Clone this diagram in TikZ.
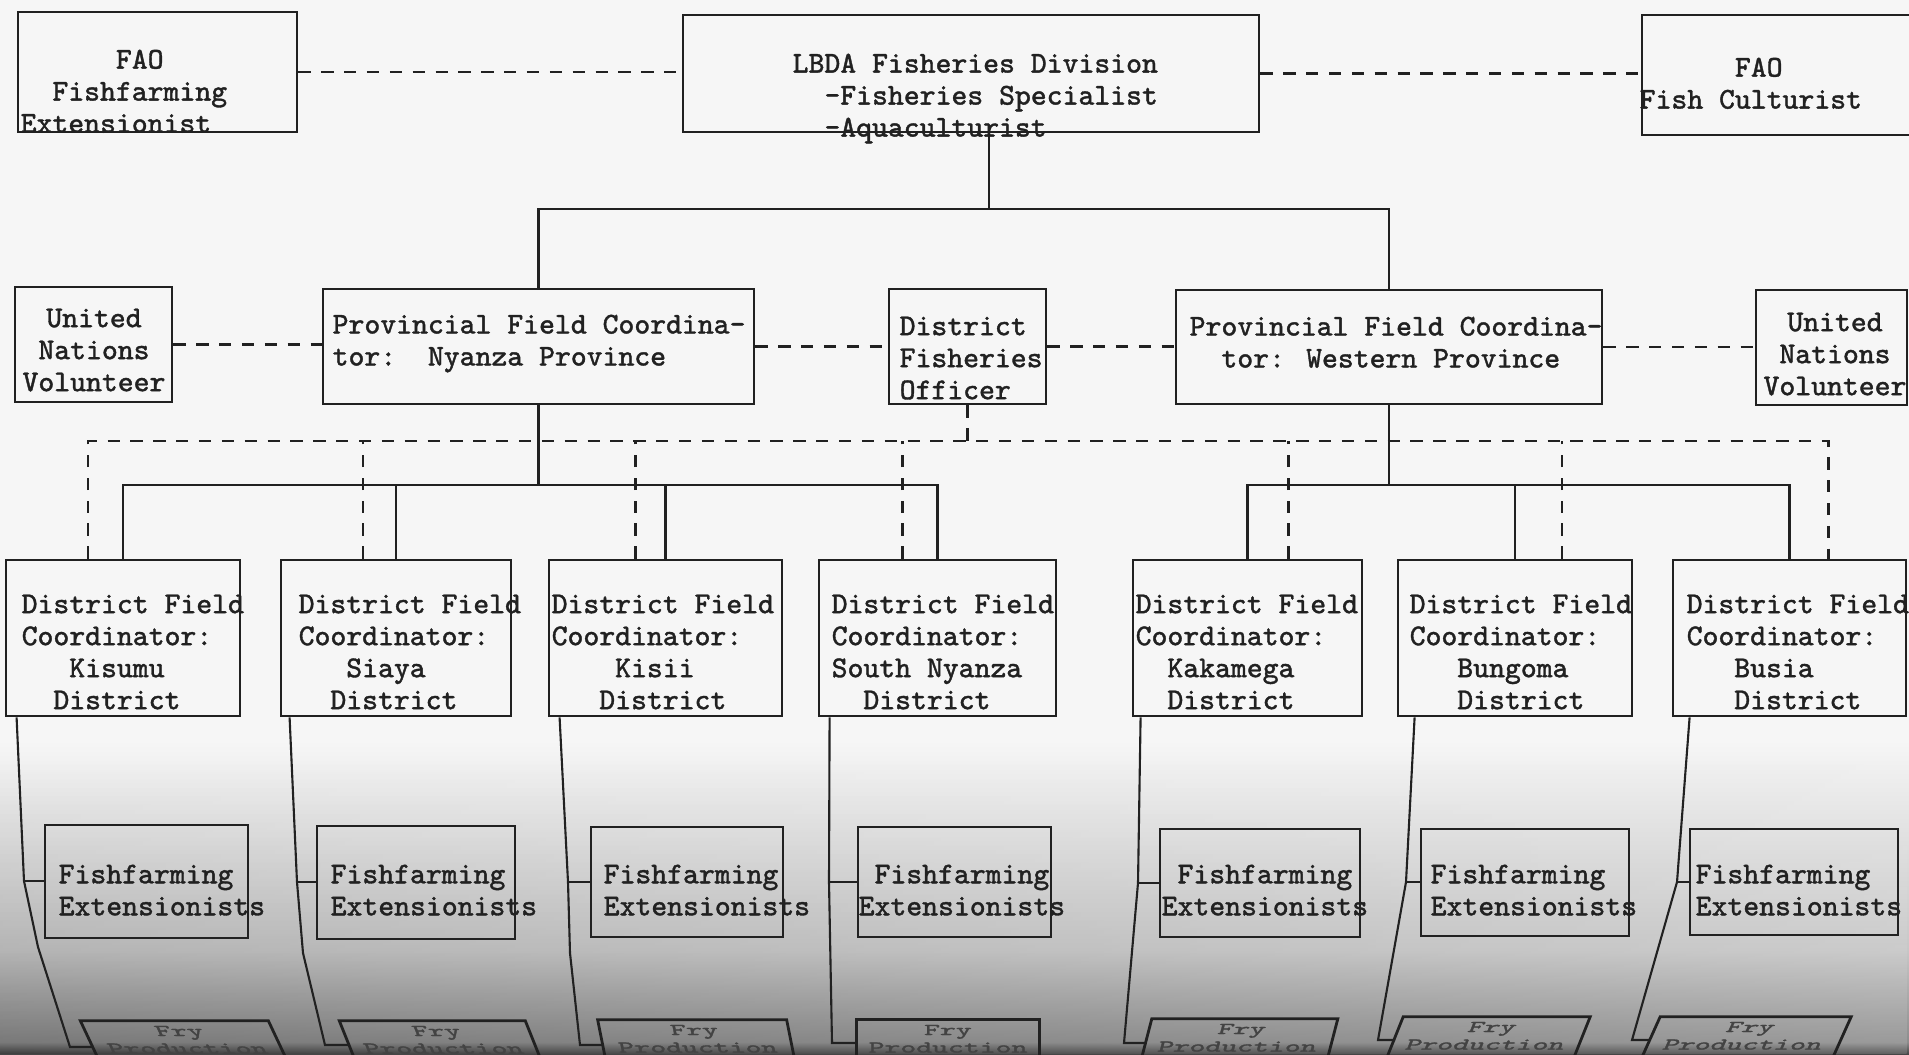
\documentclass[tikz,border=0pt]{standalone}
\usepackage{fontspec}
\newfontfamily\twfam{Latin Modern Mono}[FakeBold=1.2]
\usetikzlibrary{calc,fadings}
\definecolor{paper}{gray}{0.965}
\definecolor{ink}{gray}{0.13}
\definecolor{shA}{gray}{0.78}
\definecolor{shB}{gray}{0.55}
\newcommand{\twfont}{\fontsize{8.6}{9.1}\selectfont\twfam}
\newcommand\bx[6][]{\pgfmathsetmacro\bw{(#5-#3)*0.01}\pgfmathsetmacro\bh{(#6-#4)*0.01}%
  \node[box,minimum width=\bw cm,minimum height=\bh cm,#1] (#2) at ({(#3+#5)/2},{(#4+#6)/2}) {};}
\newcommand\fry[5]{%
  \begin{scope}[shift={(#2,#3)}, xslant=#5, yscale=0.55]
    \pgfmathsetmacro\fw{#4*0.01}
    \node[box, transform shape, anchor=north, minimum width=\fw cm, minimum height=2.2cm] (#1) at (0,0) {};
    \node[ctxt, transform shape, anchor=center, text=ink!85] (#1t) at (0,36) {Fry\\Production};
  \end{scope}}
\begin{document}
\begin{tikzpicture}[x=0.01cm,y=-0.01cm,
  box/.style={draw=ink, line width=0.8pt, inner sep=0pt, rectangle},
  txt/.style={inner sep=0pt, text=ink, font=\twfont, align=left, anchor=north west},
  ctxt/.style={inner sep=0pt, text=ink, font=\twfont, align=center, anchor=north},
  conn/.style={draw=ink, line width=0.6pt},
  dconn/.style={draw=ink, line width=0.6pt, dash pattern=on 3.5pt off 3pt}]
\useasboundingbox (0,0) rectangle (1909,1054);
\clip (0,0) rectangle (1909,1054);
\fill[paper] (0,0) rectangle (1909,1054);
\shade[top color=paper, bottom color=shA] (0,740) rectangle (1909,950);
\shade[top color=shA, bottom color=shB] (0,950) rectangle (1909,1042);
\shade[top color=shB, bottom color=gray!55!black] (0,1042) rectangle (1909,1054);
\shade[left color=black, right color=paper, opacity=0.14, path fading=north] (0,760) rectangle (1909,1054);

% ---- boxes
\bx{faoL}{18}{12}{297}{132}
\bx{lbda}{683}{15}{1259}{132}
\bx{faoR}{1642}{15}{1925}{135}

\bx{unL}{15}{287}{172}{402}
\bx{provN}{323}{289}{754}{404}
\bx{dfo}{889}{289}{1046}{404}
\bx{provW}{1176}{290}{1602}{404}
\bx{unR}{1756}{290}{1907}{405}

\bx{d1}{6}{560}{240}{716}
\bx{d2}{281}{560}{511}{716}
\bx{d3}{549}{560}{782}{716}
\bx{d4}{819}{560}{1056}{716}
\bx{d5}{1133}{560}{1362}{716}
\bx{d6}{1398}{560}{1632}{716}
\bx{d7}{1673}{560}{1906}{716}

\bx{ff1}{45}{825}{248}{938}
\bx{ff2}{317}{826}{515}{939}
\bx{ff3}{591}{827}{783}{937}
\bx{ff4}{858}{827}{1051}{937}
\bx{ff5}{1160}{829}{1360}{937}
\bx{ff6}{1421}{829}{1629}{936}
\bx{ff7}{1690}{829}{1898}{935}

\fry{fry1}{174}{1020}{188}{-0.47}
\fry{fry2}{432}{1020}{186}{-0.4}
\fry{fry3}{692}{1019}{189}{-0.2}
\fry{fry4}{948}{1019}{183}{0}
\fry{fry5}{1245}{1018}{186}{0.26}
\fry{fry6}{1497}{1016}{187}{0.4}
\fry{fry7}{1756}{1016}{191}{0.45}

% ---- connectors, top
\draw[dconn] (faoL.east) -- (faoL.east -| lbda.west);
\draw[dconn] (lbda.east) -- (lbda.east -| faoR.west);
\coordinate (yT) at (0,209);
\draw[conn] (lbda.south -| 989,0) -- (989,209);
\draw[conn] (provN.north) |- (yT -| provW.north) -- (provW.north);

% ---- row 2 dashed
\draw[dconn] (unL.east) -- (unL.east -| provN.west);
\draw[dconn] (provN.east) -- (provN.east -| dfo.west);
\draw[dconn] (dfo.east) -- (dfo.east -| provW.west);
\draw[dconn] (provW.east) -- (provW.east -| unR.west);

% ---- solid buses to districts
\coordinate (yN) at (0,485);
\draw[conn] (provN.south) -- (provN.south |- yN);
\draw[conn] (d1.north) |- (d4.north |- yN) -- (d4.north);
\draw[conn] (d2.north) -- (d2.north |- yN);
\draw[conn] (d3.north) -- (d3.north |- yN);
\draw[conn] (provW.south) -- (provW.south |- yN);
\draw[conn] (d5.north) |- (d7.north |- yN) -- (d7.north);
\draw[conn] (d6.north) -- (d6.north |- yN);

% ---- dashed bus to districts
\coordinate (yD) at (0,441);
\coordinate (q1) at ($(d1.north)+(-35,0)$);
\coordinate (q2) at ($(d2.north)+(-33,0)$);
\coordinate (q3) at ($(d3.north)+(-30,0)$);
\coordinate (q4) at ($(d4.north)+(-35,0)$);
\coordinate (q5) at ($(d5.north)+(41,0)$);
\coordinate (q6) at ($(d6.north)+(47,0)$);
\coordinate (q7) at ($(d7.north)+(39,0)$);
\draw[dconn] (q1) |- (q7 |- yD) -- (q7);
\foreach \q in {q2,q3,q4,q5,q6} \draw[dconn] (\q) -- (\q |- yD);
\draw[dconn] (dfo.south) -- (dfo.south |- yD);

% ---- district columns
\coordinate (k1) at (24,881);  \coordinate (e1) at (93,1047);
\coordinate (k2) at (297,882); \coordinate (e2) at (349,1045);
\coordinate (k3) at (568,882); \coordinate (e3) at (603,1045);
\coordinate (k4) at (829,882); \coordinate (e4) at (857,1043);
\coordinate (k5) at (1138,883); \coordinate (e5) at (1146,1043);
\coordinate (k6) at (1406,882); \coordinate (e6) at (1395,1040);
\coordinate (k7) at (1677,882); \coordinate (e7) at (1650,1040);
\draw[conn] ($(d1.south west)+(12,0)$) -- (k1) -- (38,947) -- (70,1047) -- (e1);
\draw[conn] ($(d2.south west)+(10,0)$) -- (k2) -- (303,953) -- (325,1045) -- (e2);
\draw[conn] ($(d3.south west)+(12,0)$) -- (k3) -- (570,953) -- (580,1045) -- (e3);
\draw[conn] ($(d4.south west)+(12,0)$) -- (k4) -- (832,1043) -- (e4);
\draw[conn] ($(d5.south west)+(9,0)$) -- (k5) -- (1124,1043) -- (e5);
\draw[conn] ($(d6.south west)+(18,0)$) -- (k6) -- (1378,1040) -- (e6);
\draw[conn] ($(d7.south west)+(18,0)$) -- (k7) -- (1632,1040) -- (e7);
\foreach \i in {1,...,7} \draw[conn] (k\i) -- (k\i -| ff\i.west);

% ---- texts
\node[txt] (faoLt) at (20,49) {~~~~~~FAO\\~~Fishfarming\\Extensionist};
\node[txt] (lbdat) at (792,53) {LBDA Fisheries Division\\~~-Fisheries Specialist\\~~-Aquaculturist};
\node[txt] (faoRt) at (1639,57) {~~~~~~FAO\\Fish Culturist};

\node[ctxt] (unLt) at (94,308) {United\\Nations\\Volunteer};
\node[txt] (provNt) at (332,314) {Provincial Field Coordina-\\tor:~~Nyanza Province};
\node[txt] (dfot) at (899,316) {District\\Fisheries\\Officer};
\node[txt] (provWt) at (1189,316) {Provincial Field Coordina-\\~~tor: Western Province};
\node[ctxt] (unRt) at (1835,312) {United\\Nations\\Volunteer};

\node[txt] (d1t) at (21,594) {District Field\\Coordinator:\\~~~Kisumu\\~~District};
\node[txt] (d2t) at (298,594) {District Field\\Coordinator:\\~~~Siaya\\~~District};
\node[txt] (d3t) at (551,594) {District Field\\Coordinator:\\~~~~Kisii\\~~~District};
\node[txt] (d4t) at (831,594) {District Field\\Coordinator:\\South Nyanza\\~~District};
\node[txt] (d5t) at (1135,594) {District Field\\Coordinator:\\~~Kakamega\\~~District};
\node[txt] (d6t) at (1409,594) {District Field\\Coordinator:\\~~~Bungoma\\~~~District};
\node[txt] (d7t) at (1686,594) {District Field\\Coordinator:\\~~~Busia\\~~~District};

\node[txt] (f1t) at (58,864) {Fishfarming\\Extensionists};
\node[txt] (f2t) at (330,864) {Fishfarming\\Extensionists};
\node[txt] (f3t) at (603,864) {Fishfarming\\Extensionists};
\node[txt] (f4t) at (858,864) {~Fishfarming\\Extensionists};
\node[txt] (f5t) at (1161,864) {~Fishfarming\\Extensionists};
\node[txt] (f6t) at (1430,864) {Fishfarming\\Extensionists};
\node[txt] (f7t) at (1695,864) {Fishfarming\\Extensionists};
\end{tikzpicture}
\end{document}
